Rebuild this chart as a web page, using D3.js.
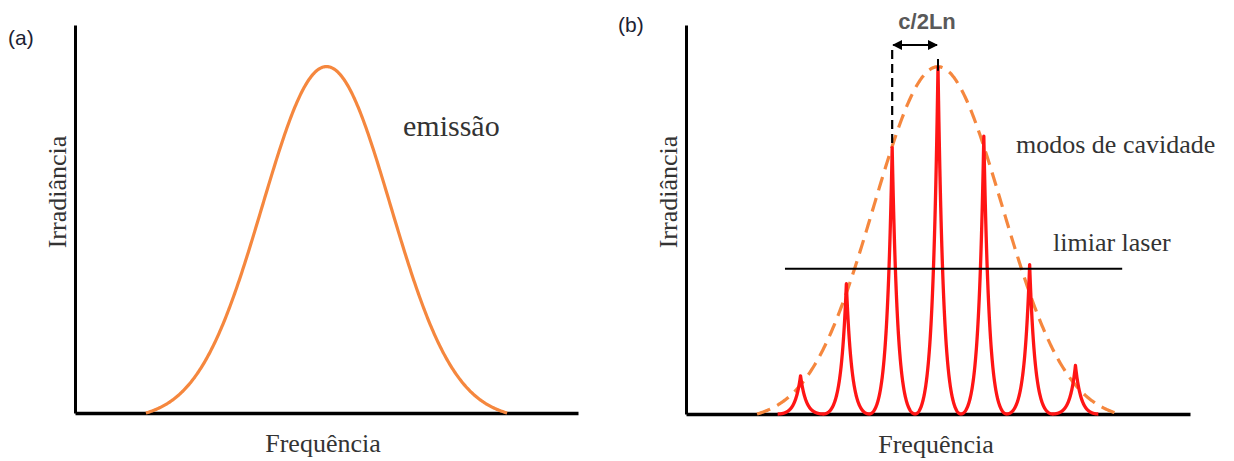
<!DOCTYPE html>
<html>
<head>
<meta charset="utf-8">
<script src="https://d3js.org/d3.v7.min.js"></script>
<style>
  body { margin: 0; background: #fff; }
  .serif { font-family: "Liberation Serif", "Times New Roman", serif; fill: #333; }
  .sans { font-family: "Liberation Sans", Arial, sans-serif; }
</style>
</head>
<body>
<div id="chart"></div>
<script>
// --- data (frequency in units of mode spacing c/2Ln, irradiance normalised to 1) ---
var emissionSigma = 1.4;              // width of gain / emission profile
var emissionSpan = [-3.95, 3.95];     // where the profile is drawn down to the axis
var modeFreqs = [-3, -2, -1, 0, 1, 2, 3];
var modeHeights = [0.11, 0.375, 0.767, 1.0, 0.80, 0.43, 0.14];
var thresholdLevel = 0.418;
var thresholdSpan = [-3.34, 4.02];
var modeDecay = 0.12;                 // how fast each resonance falls off

var width = 1234, height = 461;

var svg = d3.select("#chart").append("svg")
    .attr("width", width)
    .attr("height", height);

// scales, one pair per panel
var xA = d3.scaleLinear().domain([-5.5, 5.5]).range([75, 578]);
var yA = d3.scaleLinear().domain([0, 1.12]).range([413, 25]);
var xB = d3.scaleLinear().domain([-5.5, 5.5]).range([686, 1190]);
var yB = d3.scaleLinear().domain([0, 1.12]).range([414, 25]);

// gaussian profile, shifted so it meets the axis at the span ends
var e0 = Math.exp(-emissionSpan[1] * emissionSpan[1] / (2 * emissionSigma * emissionSigma));
function profile(v) {
    var g = Math.exp(-v * v / (2 * emissionSigma * emissionSigma));
    return Math.max(0, (g - e0) / (1 - e0));
}
var profileSteps = d3.range(emissionSpan[0], emissionSpan[1] + 0.001, 0.02);

// sharp resonance, flat bottom half way between two modes
var cNorm = Math.cosh(0.5 / modeDecay) - 1;
function mode(d, h) {
    return h * (Math.cosh((0.5 - Math.abs(d)) / modeDecay) - 1) / cNorm;
}
var modePoints = [];
modeFreqs.forEach(function(f, i) {
    d3.range(-0.5, 0.5001, 0.004).forEach(function(d) {
        modePoints.push([f + d, mode(d, modeHeights[i])]);
    });
});

function drawAxes(x, y) {
    svg.append("g")
        .attr("transform", "translate(" + x.range()[0] + ",0)")
        .call(d3.axisLeft(y).tickValues([]).tickSizeOuter(0))
        .select(".domain").attr("stroke", "#000").attr("stroke-width", 3);
    svg.append("g")
        .attr("transform", "translate(0," + y.range()[0] + ")")
        .call(d3.axisBottom(x).tickValues([]).tickSizeOuter(0))
        .select(".domain").attr("stroke", "#000").attr("stroke-width", 3.5);
}

// ---------------- panel (a) ----------------
drawAxes(xA, yA);

svg.append("path")
    .datum(profileSteps)
    .attr("fill", "none")
    .attr("stroke", "#f5873e")
    .attr("stroke-width", 3.2)
    .attr("d", d3.line()
        .x(function(d) { return xA(d); })
        .y(function(d) { return yA(profile(d)); }));

svg.append("text").attr("class", "sans")
    .attr("x", 8).attr("y", 45)
    .attr("font-size", 21).attr("fill", "#1c2233")
    .text("(a)");

svg.append("text").attr("class", "serif")
    .attr("x", 403).attr("y", 136)
    .attr("font-size", 30)
    .text("emissão");

svg.append("text").attr("class", "serif")
    .attr("transform", "translate(66,192) rotate(-90)")
    .attr("text-anchor", "middle")
    .attr("font-size", 26)
    .text("Irradiância");

svg.append("text").attr("class", "serif")
    .attr("x", 323).attr("y", 452)
    .attr("text-anchor", "middle")
    .attr("font-size", 26)
    .text("Frequência");

// ---------------- panel (b) ----------------
drawAxes(xB, yB);

// gain profile (dashed)
svg.append("path")
    .datum(profileSteps)
    .attr("fill", "none")
    .attr("stroke", "#f5873e")
    .attr("stroke-width", 3.2)
    .attr("stroke-dasharray", "14,8")
    .attr("d", d3.line()
        .x(function(d) { return xB(d); })
        .y(function(d) { return yB(profile(d)); }));

// cavity modes
svg.append("path")
    .datum(modePoints)
    .attr("fill", "none")
    .attr("stroke", "#ff1515")
    .attr("stroke-width", 3.3)
    .attr("stroke-linejoin", "round")
    .attr("d", d3.line()
        .x(function(d) { return xB(d[0]); })
        .y(function(d) { return yB(d[1]); }));

// laser threshold
svg.append("line")
    .attr("x1", xB(thresholdSpan[0])).attr("x2", xB(thresholdSpan[1]))
    .attr("y1", yB(thresholdLevel)).attr("y2", yB(thresholdLevel))
    .attr("stroke", "#000").attr("stroke-width", 2);

// mode spacing marker
var defs = svg.append("defs");
defs.append("marker")
    .attr("id", "head")
    .attr("viewBox", "0 0 10 10")
    .attr("refX", 9).attr("refY", 5)
    .attr("markerWidth", 10).attr("markerHeight", 10)
    .attr("markerUnits", "userSpaceOnUse")
    .attr("orient", "auto-start-reverse")
    .append("path")
    .attr("d", "M0,0L10,5L0,10Z")
    .attr("fill", "#000");

var arrowY = 45;
svg.append("line")
    .attr("x1", xB(modeFreqs[2]) + 1).attr("x2", xB(modeFreqs[3]) - 1)
    .attr("y1", arrowY).attr("y2", arrowY)
    .attr("stroke", "#000").attr("stroke-width", 2)
    .attr("marker-start", "url(#head)")
    .attr("marker-end", "url(#head)");

svg.append("line")
    .attr("x1", xB(modeFreqs[2])).attr("x2", xB(modeFreqs[2]))
    .attr("y1", arrowY + 5).attr("y2", yB(modeHeights[2]))
    .attr("stroke", "#000").attr("stroke-width", 2.2)
    .attr("stroke-dasharray", "9,5");

svg.append("line")
    .attr("x1", xB(modeFreqs[3])).attr("x2", xB(modeFreqs[3]))
    .attr("y1", arrowY + 14).attr("y2", yB(modeHeights[3]) + 4)
    .attr("stroke", "#000").attr("stroke-width", 2);

svg.append("text").attr("class", "sans")
    .attr("x", xB(-0.5) + 12).attr("y", 29)
    .attr("text-anchor", "middle")
    .attr("font-size", 22).attr("font-weight", "bold")
    .attr("fill", "#595959")
    .text("c/2Ln");

svg.append("text").attr("class", "sans")
    .attr("x", 618).attr("y", 32)
    .attr("font-size", 21).attr("fill", "#1c2233")
    .text("(b)");

svg.append("text").attr("class", "serif")
    .attr("x", 1016).attr("y", 153)
    .attr("font-size", 26)
    .text("modos de cavidade");

svg.append("text").attr("class", "serif")
    .attr("x", 1053).attr("y", 251)
    .attr("font-size", 26)
    .text("limiar laser");

svg.append("text").attr("class", "serif")
    .attr("transform", "translate(677,192) rotate(-90)")
    .attr("text-anchor", "middle")
    .attr("font-size", 26)
    .text("Irradiância");

svg.append("text").attr("class", "serif")
    .attr("x", 936).attr("y", 453)
    .attr("text-anchor", "middle")
    .attr("font-size", 26)
    .text("Frequência");
</script>
</body>
</html>
